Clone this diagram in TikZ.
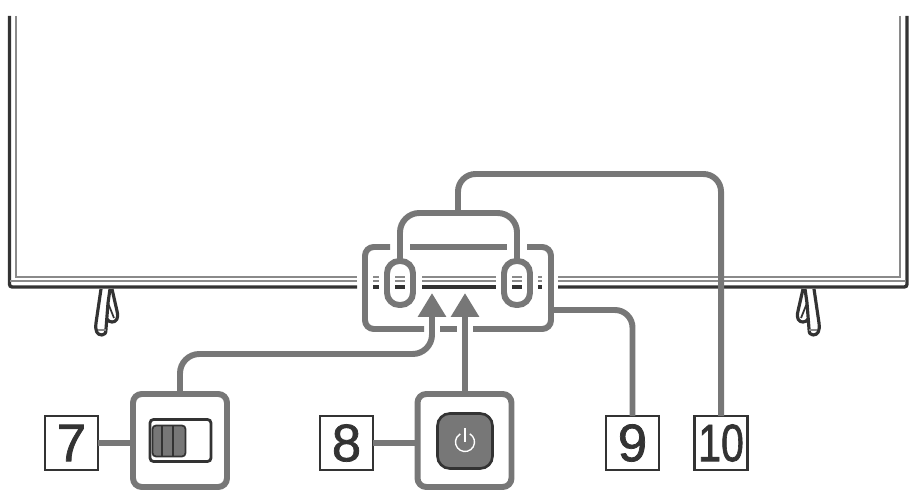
\documentclass[tikz,border=0pt]{standalone}
\usepackage{fontspec}
\setmainfont{Liberation Sans}
\newfontfamily\numfont[FakeBold=1.4]{Liberation Sans}
\usetikzlibrary{arrows.meta,calc}
\definecolor{leadgray}{HTML}{777777}
\definecolor{inkdark}{HTML}{333333}
\definecolor{tvgray}{HTML}{8A8A8A}
\tikzstyle{leader}=[draw=leadgray, line width=3.4pt]
\tikzstyle{pointer}=[leader, rounded corners=11pt, -{Triangle[width=15.3pt,length=13.6pt]}]
\tikzstyle{frameline}=[draw=inkdark, line width=1.9pt]
\tikzstyle{innerline}=[draw=tvgray, line width=1.1pt]
\tikzstyle{legline}=[draw=inkdark, line width=1.8pt, line join=round]
\tikzstyle{numbox}=[rectangle, draw=inkdark, fill=white, line width=1.3pt, minimum width=1.06cm, minimum height=1.08cm, inner sep=0pt, outer sep=0pt, text=inkdark, font=\numfont\fontsize{30}{30}\selectfont]
\tikzstyle{panel}=[rectangle, rounded corners=5pt, leader, minimum width=1.88cm, minimum height=1.86cm, inner sep=0pt, outer sep=0pt]
\tikzstyle{oval}=[rectangle, rounded corners=7pt, leader, minimum width=0.52cm, minimum height=0.88cm, inner sep=0pt, outer sep=0pt]

\begin{document}
\begin{tikzpicture}[x=0.02cm, y=-0.02cm]
        \useasboundingbox (0,0) rectangle (915,496);
        % television edge
        \draw[frameline, rounded corners=1.5pt] (9.5,16) -- (9.5,287) -- (357,287);
        \draw[frameline, rounded corners=1.5pt] (907,16) -- (907,287) -- (558,287);
        \draw[innerline] (16.3,16) -- (16.3,277) -- (357,277);
        \draw[innerline] (900,16) -- (900,277) -- (558,277);
        \draw[innerline] (10,281) -- (357,281);
        \draw[innerline] (558,281) -- (906,281);
        \foreach \xa/\xb in {373/379,395/405,422/496,512/522,538/542}{
            \draw[innerline] (\xa,277) -- (\xb,277);
            \draw[innerline] (\xa,281) -- (\xb,281);
            \draw[frameline] (\xa,287) -- (\xb,287);
        }
        % stands
        \foreach \sx/\dx in {1/0,-1/915}{
            \begin{scope}[xshift=\dx*0.02cm, xscale=\sx]
                \draw[legline] (101,289) -- (96,323) .. controls (95,331) and (97,335) .. (102,335) .. controls (105,335) and (106,333) .. (106,329) -- (108,303) -- (110,289);
                \draw[legline] (112,289) -- (117,311) .. controls (119,319) and (116,322) .. (112,322) .. controls (110,322) and (108,321) .. (107,319);
                \draw[draw=inkdark, line width=1pt] (108,303) -- (114,318);
                \draw[innerline] (98,330) -- (106,330);
            \end{scope}
        }
        % callouts on the panel
        \node(o1)[oval] at (400, 283){};
        \node(o2)[oval] at (517, 283){};
        \coordinate(hub) at (458, 213);
        \coordinate(top) at (721, 174);
        \coordinate(p9) at (551, 310);
        \coordinate(tip7) at (432, 293);
        \coordinate(bend7) at (432, 354);
        \coordinate(tip8) at (465, 293);
        \draw[leader, rounded corners=5pt] (390,247) -- (365,247) -- (365,329) -- (424,329);
        \draw[leader, rounded corners=5pt] (473,329) -- (551,329) -- (551,247) -- (527,247);
        \draw[leader] (410,247) -- (507,247);
        \draw[leader] (440,329) -- (457,329);
        % numbered boxes
        \node(n7)[numbox] at (71.5, 443){7};
        \node(n8)[numbox] at (346.5, 443){8};
        \node(n9)[numbox] at (632.5, 443){9};
        \node(n10)[numbox] at (721, 443){\scalebox{0.78}[1]{10}};
        % switch and power button
        \node(p7)[panel] at (180, 440.5){};
        \node(p8)[panel] at (464.5, 440.5){};
        \node(slider)[rectangle, rounded corners=2pt, draw=inkdark, line width=1.6pt, minimum width=1.22cm, minimum height=0.84cm, inner sep=0pt, outer sep=0pt] at (180.5, 440.5){};
        \node(knob)[rectangle, rounded corners=2pt, draw=inkdark, fill=leadgray, line width=1pt, minimum width=0.66cm, minimum height=0.62cm, inner sep=0pt, outer sep=0pt] at (169, 441){};
        \draw[draw=inkdark, line width=0.8pt] (162,425) -- (162,457);
        \draw[draw=inkdark, line width=0.8pt] (173,425) -- (173,457);
        \node(btn)[rectangle, rounded corners=7pt, draw=inkdark, fill=leadgray, line width=1.5pt, minimum width=1.1cm, minimum height=1.1cm, inner sep=0pt, outer sep=0pt] at (465, 441){};
        \draw[draw=white, line width=0.8pt] (469.75,433.8) arc[start angle=60, end angle=-240, radius=0.19cm];
        \draw[draw=white, line width=0.8pt] (465,428) -- (465,442);
        % connectors
        \draw[leader, rounded corners=11pt] (o1.north) |- (hub) -| (o2.north);
        \draw[leader, rounded corners=10pt] (hub) |- (top) -- (n10.north);
        \draw[leader, rounded corners=10pt] (p9) -| (n9.north);
        \draw[pointer] (p7.north) |- (bend7) -- (tip7);
        \draw[pointer] (p8.north -| tip8) -- (tip8);
        \draw[leader] (n7.east) -- (n7.east -| p7.west);
        \draw[leader] (n8.east) -- (n8.east -| p8.west);
     \end{tikzpicture}
\end{document}
